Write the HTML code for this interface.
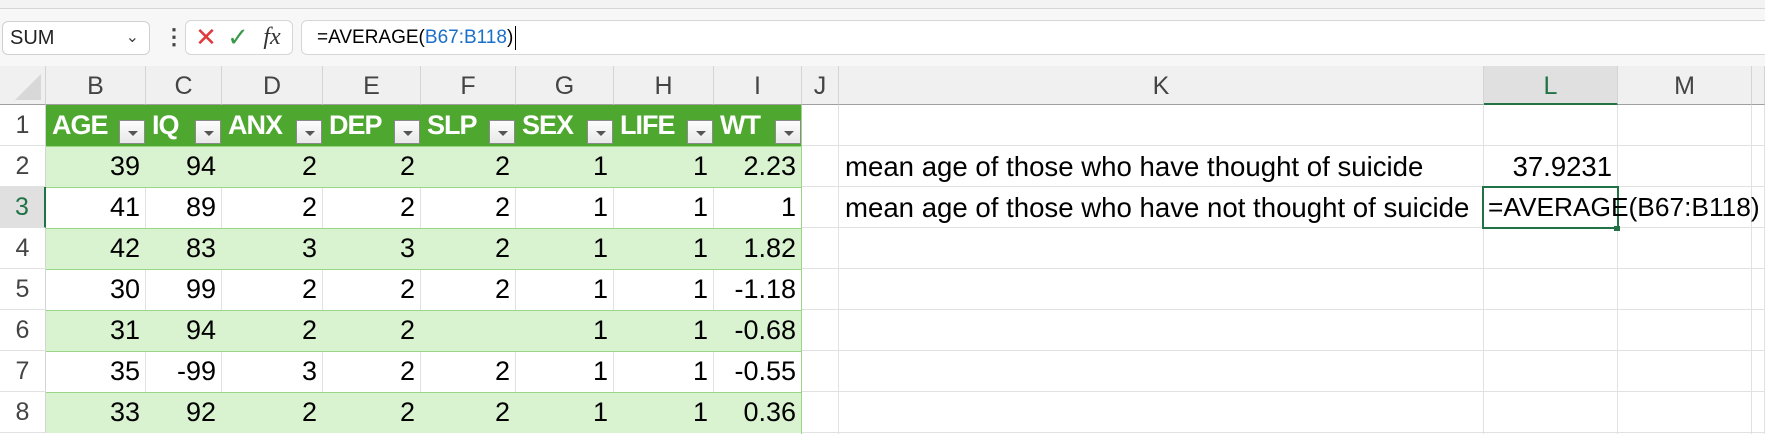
<!DOCTYPE html>
<html><head><meta charset="utf-8"><style>
html,body{margin:0;padding:0;}
body{width:1765px;height:434px;position:relative;overflow:hidden;background:#fff;font-family:"Liberation Sans",sans-serif;}
.a{position:absolute;box-sizing:border-box;}
.cell{position:absolute;box-sizing:border-box;font-size:27px;line-height:41px;color:#000;white-space:nowrap;padding:0 6px;}
.hd{position:absolute;box-sizing:border-box;font-family:"Liberation Sans Narrow","Liberation Sans",sans-serif;font-weight:bold;color:#fff;font-size:27px;letter-spacing:-1px;line-height:41px;padding-left:6px;}
.dd{position:absolute;box-sizing:border-box;width:26px;height:24px;background:linear-gradient(#fdfdfd,#e8e8e8);border:1px solid #8a8a8a;}
.dd:after{content:"";position:absolute;left:8px;top:10px;border-left:5px solid transparent;border-right:5px solid transparent;border-top:5px solid #555;}
.ch{position:absolute;box-sizing:border-box;top:66px;height:39px;background:#f0f0f0;border-right:1px solid #d4d4d4;border-bottom:1px solid #9f9f9f;text-align:center;font-family:"Liberation Sans Narrow","Liberation Sans",sans-serif;font-size:25px;line-height:40px;color:#444;}
.rh{position:absolute;box-sizing:border-box;left:0;width:46px;background:#fff;border-right:1px solid #d4d4d4;border-bottom:1px solid #e1e1e1;text-align:center;font-size:25px;line-height:41px;color:#444;}
</style></head><body>
<div class="a" style="left:0;top:0;width:1765px;height:9px;background:#f3f3f3;border-bottom:1px solid #d6d6d6"></div>
<div class="a" style="left:0;top:9px;width:1765px;height:57px;background:#f7f7f7"></div>
<div class="a" style="left:2px;top:21px;width:148px;height:34px;background:#fff;border:1px solid #d0d0d0;border-radius:6px;font-size:20px;line-height:32px;padding-left:7px;color:#222">SUM<span style="position:absolute;right:10px;top:0;font-size:16px;color:#444">&#8964;</span></div>
<div class="a" style="left:163px;top:21px;width:12px;height:34px;font-size:22px;line-height:32px;color:#444;font-weight:bold;text-align:center">&#8942;</div>
<div class="a" style="left:185px;top:20px;width:108px;height:35px;background:#fff;border:1px solid #d6d6d6;border-radius:6px"></div>
<div class="a" style="left:194px;top:21px;width:24px;height:34px;color:#e03a3a;font-size:26px;line-height:33px;text-align:center">&#10005;</div>
<div class="a" style="left:225px;top:21px;width:26px;height:34px;color:#3a9a4a;font-size:26px;line-height:33px;text-align:center">&#10003;</div>
<div class="a" style="left:258px;top:21px;width:28px;height:34px;font-family:'Liberation Serif',serif;font-style:italic;font-size:24px;line-height:33px;color:#333;text-align:center">fx</div>
<div class="a" style="left:301px;top:20px;width:1470px;height:35px;background:#fff;border:1px solid #d6d6d6;border-radius:6px;font-size:19px;line-height:33px;padding-left:15px;color:#000">=AVERAGE(<span style="color:#1a6fc9">B67:B118</span>)<span style="display:inline-block;width:1px;height:24px;background:#000;vertical-align:middle;margin-left:2px"></span></div>

<div class="a" style="left:0;top:66px;width:46px;height:39px;background:#f0f0f0;border-right:1px solid #d4d4d4;border-bottom:1px solid #9f9f9f"><div style="position:absolute;right:4px;bottom:4px;width:0;height:0;border-left:26px solid transparent;border-bottom:26px solid #d8d8d8"></div></div>
<div id="grid"></div>
<script>
const colEdges=[46,146,222,323,421,516,614,714,802,839,1484,1618,1752,1765];
const colNames=['B','C','D','E','F','G','H','I','J','K','L','M',''];
const rowTops=[105,146,187,228,269,310,351,392,433];
const headers=['AGE','IQ','ANX','DEP','SLP','SEX','LIFE','WT'];
const tableData=[
['39','94','2','2','2','1','1','2.23'],
['41','89','2','2','2','1','1','1'],
['42','83','3','3','2','1','1','1.82'],
['30','99','2','2','2','1','1','-1.18'],
['31','94','2','2','','1','1','-0.68'],
['35','-99','3','2','2','1','1','-0.55'],
['33','92','2','2','2','1','1','0.36']];
const g=document.getElementById('grid');
function mk(cls,style,txt){const d=document.createElement('div');d.className=cls;d.style.cssText=style;if(txt!==undefined)d.textContent=txt;g.appendChild(d);return d;}
for(let i=0;i<colNames.length;i++){
 const x=colEdges[i],w=colEdges[i+1]-x;
 const sel=colNames[i]==='L';
 const d=mk('ch','left:'+x+'px;width:'+w+'px;'+(sel?'background:#e0e0e0;border-bottom:2px solid #217346;color:#217346;':''),colNames[i]);
 
 
}
for(let r=0;r<8;r++){
 const y=rowTops[r],h=rowTops[r+1]-y;
 const sel=r===2;
 const d=mk('rh','top:'+y+'px;height:'+h+'px;'+(sel?'background:#e0e0e0;border-right:2px solid #217346;color:#217346;':''),String(r+1));
 
 
}
for(let i=8;i<colEdges.length;i++){
 const d=mk('a','left:'+(colEdges[i]-1)+'px;top:105px;width:1px;height:329px;background:#e1e1e1');
 
 
}
for(let r=1;r<rowTops.length;r++){
 const d=mk('a','left:802px;top:'+(rowTops[r]-1)+'px;width:963px;height:1px;background:#e1e1e1');
 
 
}
const th=mk('a','left:46px;top:105px;width:756px;height:41px;background:#4ea72e');


for(let c=0;c<8;c++){
 const x=colEdges[c],w=colEdges[c+1]-x;
 const h=mk('hd','left:'+x+'px;top:105px;width:'+w+'px;height:41px',headers[c]);
 
 
 const dd=mk('dd','left:'+(colEdges[c+1]-27)+'px;top:120px');
 
 
}
for(let r=0;r<tableData.length;r++){
 const y=rowTops[r+1],h=rowTops[r+2]-y;
 const green=r%2===0;
 const bg=mk('a','left:46px;top:'+y+'px;width:756px;height:'+h+'px;background:'+(green?'#d9f2d0':'#fff')+';border-top:1px solid #9bd587');
 
 
 if(!green){for(let c=1;c<8;c++){const v=mk('a','left:'+(colEdges[c]-1)+'px;top:'+(y+1)+'px;width:1px;height:'+(h-1)+'px;background:#e1e1e1');}}
 for(let c=0;c<8;c++){
  const x=colEdges[c],w=colEdges[c+1]-x;
  const d=mk('cell','left:'+x+'px;top:'+y+'px;width:'+w+'px;height:'+h+'px;text-align:right',tableData[r][c]);
  
  
 }
}
const edge=mk('a','left:801px;top:105px;width:1px;height:329px;background:#9bd587');


</script>
<div class="cell" style="left:839px;top:146px;height:41px;font-size:27.6px">mean age of those who have thought of suicide</div>
<div class="cell" style="left:1484px;top:146px;width:134px;height:41px;text-align:right;font-size:27.5px">37.9231</div>
<div class="cell" style="left:839px;top:187px;height:41px;font-size:27.6px">mean age of those who have not thought of suicide</div>
<div class="a" style="left:1482px;top:186px;width:137px;height:43px;border:2px solid #217346;background:#fff"></div>
<div class="cell" style="left:1484px;top:187px;height:41px;padding-left:4px;font-size:26.3px">=AVERAGE(B67:B118)</div>
<div class="a" style="left:1614px;top:226px;width:6px;height:5px;background:#217346"></div>
</body></html>
